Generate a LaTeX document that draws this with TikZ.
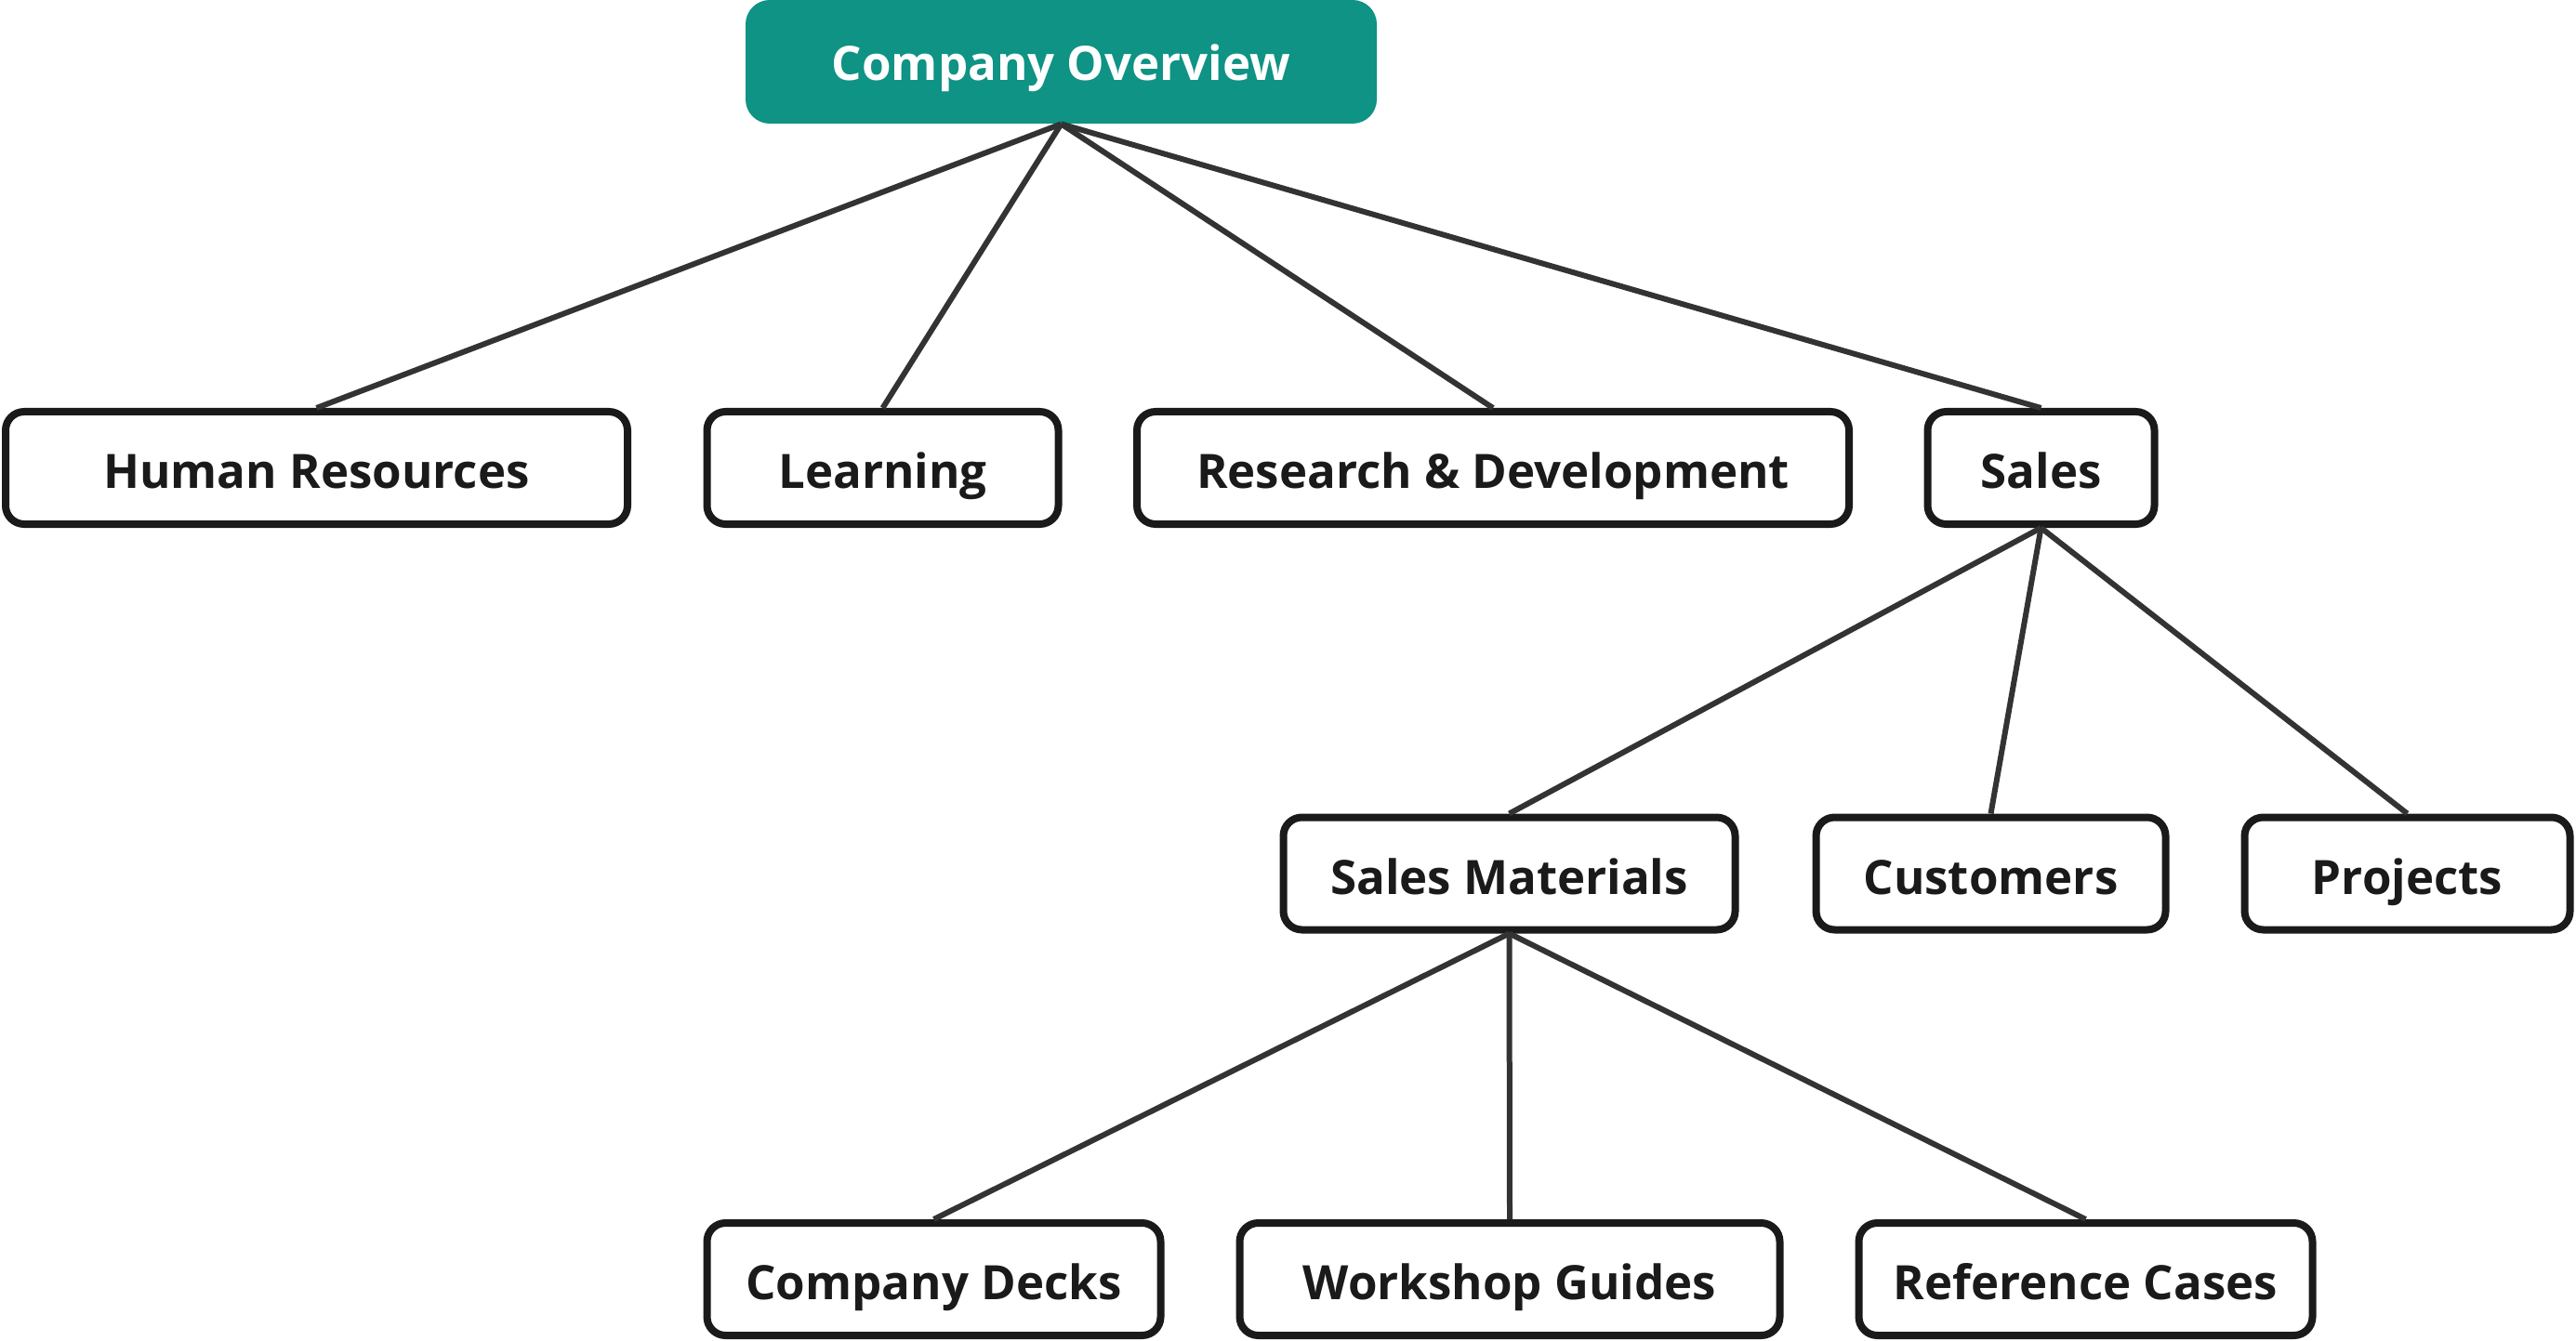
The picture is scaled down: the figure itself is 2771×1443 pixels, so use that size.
\documentclass[tikz,border=0pt]{standalone}
\usepackage{fontspec}
\setmainfont{Open Sans}
\definecolor{teal1}{HTML}{0E9384}
\definecolor{boxline}{HTML}{1A1A1A}
\definecolor{connline}{HTML}{333333}
\begin{document}
\begin{tikzpicture}[x=0.5pt,y=-0.5pt,
  box/.style={draw=boxline, line width=4pt, rounded corners=10pt, fill=white, inner sep=0pt,
    minimum height=60.5pt, text height=22pt, text depth=0pt,
    font=\bfseries\fontsize{25.5}{30}\selectfont, text=boxline},
  topbox/.style={fill=teal1, rounded corners=13pt, inner sep=0pt, minimum width=339.5pt,
    minimum height=66.5pt, text height=20pt, text depth=0pt,
    font=\bfseries\fontsize{25.5}{30}\selectfont, text=white},
  conn/.style={draw=connline, line width=3pt}]
\useasboundingbox (0,0) rectangle (2771,1443);
\node[topbox] (top) at (1141.5,66.5) {Company Overview};
% row 1
\node[box, minimum width=334.5pt] (hr) at (340.5,503.5) {Human Resources};
\node[box, minimum width=189pt] (learn) at (949.5,503.5) {Learning};
\node[box, minimum width=383pt] (rd) at (1606,503.5) {Research \& Development};
\node[box, minimum width=122pt] (sales) at (2195.5,503.5) {Sales};
% row 2
\node[box, minimum width=243pt] (mat) at (1623.5,940) {Sales Materials};
\node[box, minimum width=188pt] (cust) at (2141.5,940) {Customers};
\node[box, minimum width=175pt] (proj) at (2589.5,940) {Projects};
% row 3
\node[box, minimum width=244pt] (decks) at (1004.5,1376.5) {Company Decks};
\node[box, minimum width=290.5pt] (guides) at (1624,1376.5) {Workshop Guides};
\node[box, minimum width=244pt] (cases) at (2243.5,1376.5) {Reference Cases};
% connectors
\draw[conn] (top.south) -- (hr.north);
\draw[conn] (top.south) -- (learn.north);
\draw[conn] (top.south) -- (rd.north);
\draw[conn] (top.south) -- (sales.north);
\draw[conn] (sales.south) -- (mat.north);
\draw[conn] (sales.south) -- (cust.north);
\draw[conn] (sales.south) -- (proj.north);
\draw[conn] (mat.south) -- (decks.north);
\draw[conn] (mat.south) -- (guides.north);
\draw[conn] (mat.south) -- (cases.north);
\end{tikzpicture}
\end{document}
